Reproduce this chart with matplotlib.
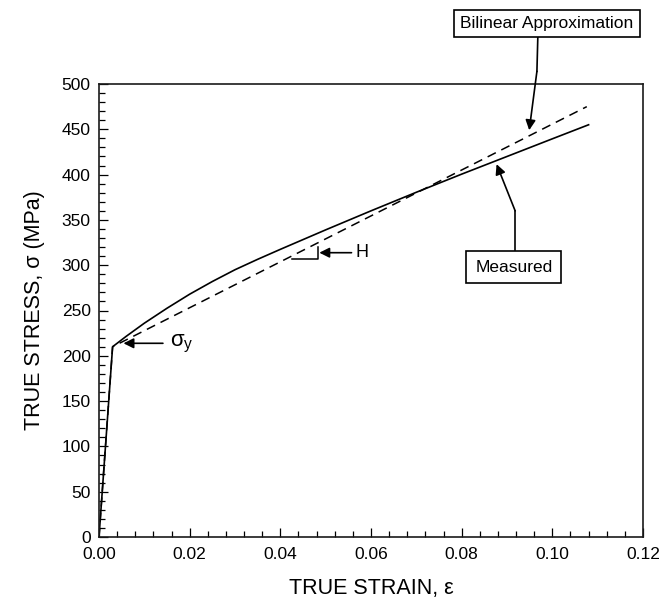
import matplotlib
matplotlib.use("Agg")
import matplotlib.pyplot as plt
from matplotlib.ticker import MultipleLocator

plt.rcParams['font.family'] = ['Liberation Sans', 'DejaVu Sans']
plt.rcParams['mathtext.fontset'] = 'custom'
plt.rcParams['mathtext.rm'] = 'Liberation Sans'
plt.rcParams['mathtext.it'] = 'Liberation Sans'

# measured true stress-strain curve
strain_meas = [0.0, 0.003, 0.006, 0.01, 0.015, 0.02, 0.025, 0.03, 0.035, 0.04,
               0.05, 0.06, 0.07, 0.08, 0.09, 0.10, 0.108]
stress_meas = [0, 210, 221.5, 236, 252.5, 268, 282, 295, 306.5, 317.5,
               339, 360, 380.5, 400.5, 420, 439.5, 455]

# bilinear approximation
strain_bi = [0.0, 0.003, 0.1076]
stress_bi = [0, 210, 475]

xticks = [0.00, 0.02, 0.04, 0.06, 0.08, 0.10, 0.12]
yticks = [0, 50, 100, 150, 200, 250, 300, 350, 400, 450, 500]

fig = plt.figure(figsize=(6.68, 5.98), dpi=100)
ax = fig.add_axes([99/668, 61/598, 544/668, 453/598])

ax.plot(strain_meas, stress_meas, color='black', lw=1.2)
ax.plot(strain_bi, stress_bi, color='black', lw=1.1, ls=(0, (6, 4)))

ax.set_xlim(0, 0.12)
ax.set_ylim(0, 500)
ax.set_xticks(xticks)
ax.set_xticklabels(['%.2f' % v for v in xticks])
ax.set_yticks(yticks)
ax.xaxis.set_minor_locator(MultipleLocator(0.004))
ax.yaxis.set_minor_locator(MultipleLocator(10))
ax.tick_params(which='both', direction='in', top=False, right=False,
               labelsize=12.5, width=0.9, color='black')
ax.tick_params(which='major', length=6.5)
ax.tick_params(which='minor', length=4.3)
ax.tick_params(axis='y', pad=6)
ax.tick_params(axis='x', pad=7)
for sp in ax.spines.values():
    sp.set_linewidth(1.2)
    sp.set_color('#1a1a1a')

ax.set_xlabel('TRUE STRAIN, ε', fontsize=15.5, labelpad=12)
ax.set_ylabel('TRUE STRESS, σ (MPa)', fontsize=15.5, labelpad=12)

arrow = dict(arrowstyle='-|>', color='black', lw=1.2, mutation_scale=15,
             shrinkA=0, shrinkB=0)

# yield stress marker
ax.annotate('', xy=(0.0054, 213.8), xytext=(0.0141, 213.8), arrowprops=arrow)
ax.text(0.0157, 213, r'$\sigma_y$', fontsize=16, va='center', ha='left')

# hardening slope marker
ax.plot([0.0425, 0.0482, 0.0482], [306.8, 306.8, 320.4], color='black', lw=1.1)
ax.annotate('', xy=(0.0486, 313.8), xytext=(0.0557, 313.8), arrowprops=arrow)
ax.text(0.0565, 313.8, 'H', fontsize=13, va='center', ha='left')

# bilinear label
ax.text(0.0988, 567, 'Bilinear Approximation', fontsize=12.5, ha='center', va='center',
        bbox=dict(boxstyle='square,pad=0.35', fc='white', ec='black', lw=1.2),
        clip_on=False)
ax.plot([0.0968, 0.0966], [552, 514], color='black', lw=1.2, clip_on=False)
ax.annotate('', xy=(0.0949, 449), xytext=(0.0966, 514), arrowprops=arrow,
            annotation_clip=False)

# measured label
ax.text(0.0915, 298, 'Measured', fontsize=12.5, ha='center', va='center',
        bbox=dict(boxstyle='square,pad=0.5', fc='white', ec='black', lw=1.2))
ax.plot([0.0918, 0.0918], [317, 360], color='black', lw=1.2)
ax.annotate('', xy=(0.0877, 411.5), xytext=(0.0918, 360), arrowprops=arrow)

fig.savefig('out.png', dpi=100)
